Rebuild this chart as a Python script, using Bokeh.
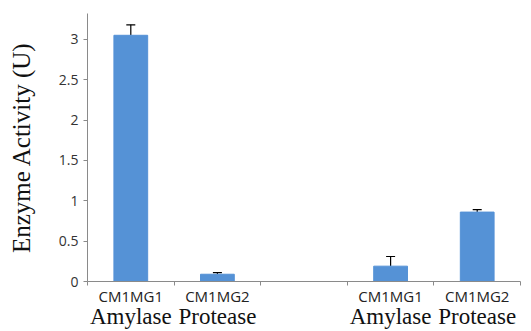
from bokeh.plotting import figure
from bokeh.models import (ColumnDataSource, Range1d, LinearAxis, FixedTicker,
                          Whisker, TeeHead)
from bokeh.embed import file_html
from bokeh.resources import INLINE

# ---- data ----
strains = ["CM1MG1", "CM1MG2", "", "CM1MG1", "CM1MG2"]
enzymes = ["Amylase", "Protease", "", "Amylase", "Protease"]
activity = [3.05, 0.09, None, 0.19, 0.86]
error = [0.13, 0.02, None, 0.12, 0.03]
y_ticks = [0, 0.5, 1, 1.5, 2, 2.5, 3]
y_max = 3.32

n = len(strains)
idx = [i for i in range(n) if activity[i] is not None]
src = ColumnDataSource(dict(
    x=[i + 0.5 for i in idx],
    top=[activity[i] for i in idx],
    upper=[activity[i] + error[i] for i in idx],
))

p = figure(width=531, height=331, output_backend="svg", toolbar_location=None,
           x_range=Range1d(0, n), y_range=Range1d(0, y_max),
           x_axis_type=None, y_axis_type=None,
           min_border_left=87, min_border_right=11, min_border_top=13,
           min_border_bottom=49)
p.outline_line_color = None
p.xgrid.grid_line_color = None
p.ygrid.grid_line_color = None
p.background_fill_color = "white"

p.vbar(x="x", top="top", width=0.39, bottom=0, source=src,
       fill_color="#5592d6", line_color="#5592d6")

p.add_layout(Whisker(source=src, base="x", upper="upper", lower="top",
                     line_color="black", line_width=1.2,
                     upper_head=TeeHead(size=9, line_color="black", line_width=1.2),
                     lower_head=None))

axis_col = "#8a8a8a"
sans = "Open Sans"
serif = "Liberation Serif"

# y axis
ya = LinearAxis(ticker=FixedTicker(ticks=y_ticks, minor_ticks=[]),
                major_label_overrides={t: f"{t:g}" for t in y_ticks})
ya.axis_line_color = axis_col
ya.major_tick_line_color = axis_col
ya.major_tick_out = 4
ya.major_tick_in = 0
ya.major_label_standoff = 5
ya.major_label_text_font = sans
ya.major_label_text_font_size = "14px"
ya.major_label_text_color = "#333333"
ya.axis_label = "Enzyme Activity (U)"
ya.axis_label_text_font = serif
ya.axis_label_text_font_size = "25px"
ya.axis_label_text_font_style = "normal"
ya.axis_label_text_color = "#111111"
ya.axis_label_standoff = 21
p.add_layout(ya, "left")

centers = [i + 0.5 for i in range(n)]
bounds = list(range(n + 1))

# x axis: strain labels, boundary ticks as minor ticks
xa = LinearAxis(ticker=FixedTicker(ticks=centers, minor_ticks=bounds),
                major_label_overrides={c: s for c, s in zip(centers, strains)})
xa.axis_line_color = axis_col
xa.major_tick_line_color = None
xa.major_tick_out = 0
xa.major_tick_in = 0
xa.minor_tick_line_color = axis_col
xa.minor_tick_out = 4
xa.minor_tick_in = 0
xa.major_label_standoff = 0
xa.major_label_text_font = sans
xa.major_label_text_font_size = "15px"
xa.major_label_text_color = "#222222"
p.add_layout(xa, "below")

# second row: enzyme labels
xb = LinearAxis(ticker=FixedTicker(ticks=centers, minor_ticks=[]),
                major_label_overrides={c: s for c, s in zip(centers, enzymes)})
xb.axis_line_color = None
xb.major_tick_line_color = None
xb.minor_tick_line_color = None
xb.major_tick_out = 0
xb.major_tick_in = 0
xb.major_label_standoff = -5
xb.major_label_text_font = serif
xb.major_label_text_font_size = "23px"
xb.major_label_text_color = "#111111"
p.add_layout(xb, "below")

open("out.html", "w").write(file_html(p, INLINE))
